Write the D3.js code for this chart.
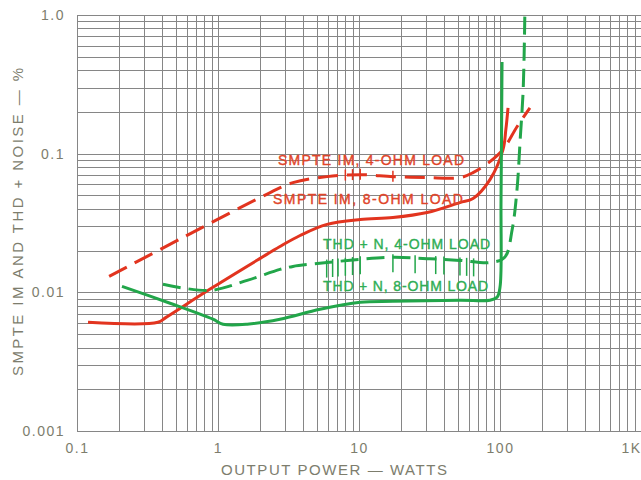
<!DOCTYPE html>
<html><head><meta charset="utf-8">
<script src="https://cdn.jsdelivr.net/npm/d3@7"></script>
<style>body{margin:0;background:#fff}svg{display:block}text{font-family:"Liberation Sans",Arial,sans-serif}</style>
</head><body><svg id="c" width="641" height="480"></svg>
<script>
// ---- data ----
const xTickValues = [0.1, 1, 10, 100, 1000];
const xTickLabels = ["0.1", "1", "10", "100", "1K"];
const yTickValues = [1, 0.1, 0.01, 0.001];
const yTickLabels = ["1.0", "0.1", "0.01", "0.001"];

const smpte8 = [[0.1197,0.00608],[0.375,0.00608],[0.428,0.0066],[0.92,0.01087],[1.99,0.01757],[2.75,0.0214],[3.82,0.0257],[5.93,0.0309],[10.2,0.0335],[17.4,0.0346],[30.4,0.0376],[52,0.0444],[64.4,0.0475],[84.9,0.065],[105,0.1069],[110,0.149],[114,0.2143]];
const smpte4 = [[0.169,0.01303],[0.583,0.0253],[1.99,0.0482],[3.4,0.0618],[5.93,0.0683],[10.2,0.0706],[17.4,0.0683],[30.4,0.0672],[52,0.0672],[64.4,0.073],[84.9,0.0876],[105,0.1069],[132,0.1564],[163,0.2143]];
const thd8 = [[0.2085,0.01104],[0.457,0.00834],[0.92,0.0064],[1.085,0.00589],[1.61,0.00589],[2.75,0.0064],[5.29,0.00755],[10.2,0.00847],[17.4,0.00861],[52,0.00876],[84.9,0.00876],[95.2,0.0092],[100,0.01087],[101.7,0.0467],[103.4,0.459]];
const thd4 = [[0.407,0.01142],[0.877,0.01033],[1.61,0.0122],[2.75,0.01463],[3.4,0.01538],[5.93,0.0164],[10.2,0.0173],[17.4,0.0179],[30.4,0.0175],[52,0.017],[84.9,0.0164],[108,0.0179],[122,0.0284],[132,0.0551],[139,0.126],[146,0.289],[150,1.0]];
const thd4MarksX = [5.9, 6.5, 7.1, 8.0, 9.0, 10.2, 17.4, 25, 35, 40, 52, 58, 65];
const smpte4MarksX = [8.0, 9.0, 10.2, 17.4];
const labels = [
  {text:"SMPTE IM, 4-OHM LOAD", x:2.665, y:0.0833, w:186, color:"#e0452a"},
  {text:"SMPTE IM, 8-OHM LOAD", x:2.455, y:0.043, w:190, color:"#e0452a"},
  {text:"THD + N, 4-OHM LOAD", x:5.56, y:0.0204, w:167, color:"#2fae55"},
  {text:"THD + N, 8-OHM LOAD", x:5.56, y:0.01017, w:165, color:"#2fae55"}
];

// ---- chart ----
const svg = d3.select("#c");
const x = d3.scaleLog().domain([0.1, 1000]).range([77, 641]);
const y = d3.scaleLog().domain([0.001, 1]).range([431, 15]);
const grey = "#7d7d6d";

// grid
const gx = [], gy = [];
for (let e = -1; e < 3; e++) for (let k = 1; k <= 9; k++) gx.push(k * Math.pow(10, e));
gx.push(1000);
for (let e = -3; e < 0; e++) for (let k = 1; k <= 9; k++) gy.push(k * Math.pow(10, e));
gy.push(1);
const grid = svg.append("g").attr("stroke", "#868686").attr("stroke-width", 1);
grid.selectAll("line.v").data(gx).join("line")
  .attr("x1", d => Math.round(x(d)) + 0.5).attr("x2", d => Math.round(x(d)) + 0.5)
  .attr("y1", y(1)).attr("y2", y(0.001));
grid.selectAll("line.h").data(gy).join("line")
  .attr("y1", d => Math.round(y(d)) + 0.5).attr("y2", d => Math.round(y(d)) + 0.5)
  .attr("x1", x(0.1)).attr("x2", x(1000));

// axes (labels only, ticks drawn by grid)
const xAxis = d3.axisBottom(x).tickValues(xTickValues).tickFormat((d, i) => xTickLabels[i]).tickSize(0).tickPadding(12);
svg.append("g").attr("transform", `translate(0,${y(0.001)})`).call(xAxis)
  .call(g => g.select(".domain").remove())
  .selectAll("text").attr("fill", grey).attr("font-size", 14).attr("letter-spacing", 1.5)
  .attr("text-anchor", (d, i) => i === 4 ? "end" : "middle");
const yAxis = d3.axisLeft(y).tickValues(yTickValues).tickFormat((d, i) => yTickLabels[i]).tickSize(0).tickPadding(12);
svg.append("g").attr("transform", `translate(${x(0.1)},0)`).call(yAxis)
  .call(g => g.select(".domain").remove())
  .selectAll("text").attr("fill", grey).attr("font-size", 14).attr("letter-spacing", 1.5);

// titles
svg.append("text").attr("x", 334).attr("y", 475).attr("text-anchor", "middle")
  .attr("fill", grey).attr("font-size", 15).attr("textLength", 226).attr("lengthAdjust", "spacing")
  .text("OUTPUT POWER — WATTS");
svg.append("text").attr("transform", "translate(23,222) rotate(-90)").attr("text-anchor", "middle")
  .attr("fill", grey).attr("font-size", 15).attr("textLength", 308).attr("lengthAdjust", "spacing")
  .text("SMPTE IM AND THD + NOISE — %");

// curves
const line = d3.line().x(d => x(d[0])).y(d => y(d[1])).curve(d3.curveCatmullRom.alpha(0.5));
const red = "#e2341f", green = "#22a64a";
const series = [
  {data: smpte4, color: red, dash: "20,9"},
  {data: smpte8, color: red, dash: null},
  {data: thd4, color: green, dash: "18,8"},
  {data: thd8, color: green, dash: null}
];
svg.append("g").selectAll("path").data(series).join("path")
  .attr("d", s => line(s.data)).attr("fill", "none")
  .attr("stroke", s => s.color).attr("stroke-width", 3)
  .attr("stroke-dasharray", s => s.dash).attr("stroke-linejoin", "round");

// small measurement marks
function interp(data, xv) {
  const lx = Math.log10(xv);
  for (let i = 0; i < data.length - 1; i++) {
    const a = Math.log10(data[i][0]), b = Math.log10(data[i + 1][0]);
    if (lx >= a && lx <= b) {
      const t = (lx - a) / (b - a);
      return Math.pow(10, Math.log10(data[i][1]) * (1 - t) + Math.log10(data[i + 1][1]) * t);
    }
  }
  return data[0][1];
}
svg.append("g").selectAll("line").data(thd4MarksX).join("line")
  .attr("x1", d => x(d)).attr("x2", d => x(d))
  .attr("y1", d => y(interp(thd4, d)) - 3).attr("y2", d => y(interp(thd4, d)) + 15)
  .attr("stroke", green).attr("stroke-width", 1.5);
svg.append("g").selectAll("line").data(smpte4MarksX).join("line")
  .attr("x1", d => x(d)).attr("x2", d => x(d))
  .attr("y1", d => y(interp(smpte4, d)) - 6).attr("y2", d => y(interp(smpte4, d)) + 5)
  .attr("stroke", red).attr("stroke-width", 1.5);

// series labels
svg.append("g").selectAll("text").data(labels).join("text")
  .attr("x", d => x(d.x)).attr("y", d => y(d.y))
  .attr("fill", d => d.color).attr("stroke", d => d.color).attr("stroke-width", 0.4)
  .attr("font-size", 14)
  .attr("textLength", d => d.w).attr("lengthAdjust", "spacing")
  .text(d => d.text);
</script></body></html>
